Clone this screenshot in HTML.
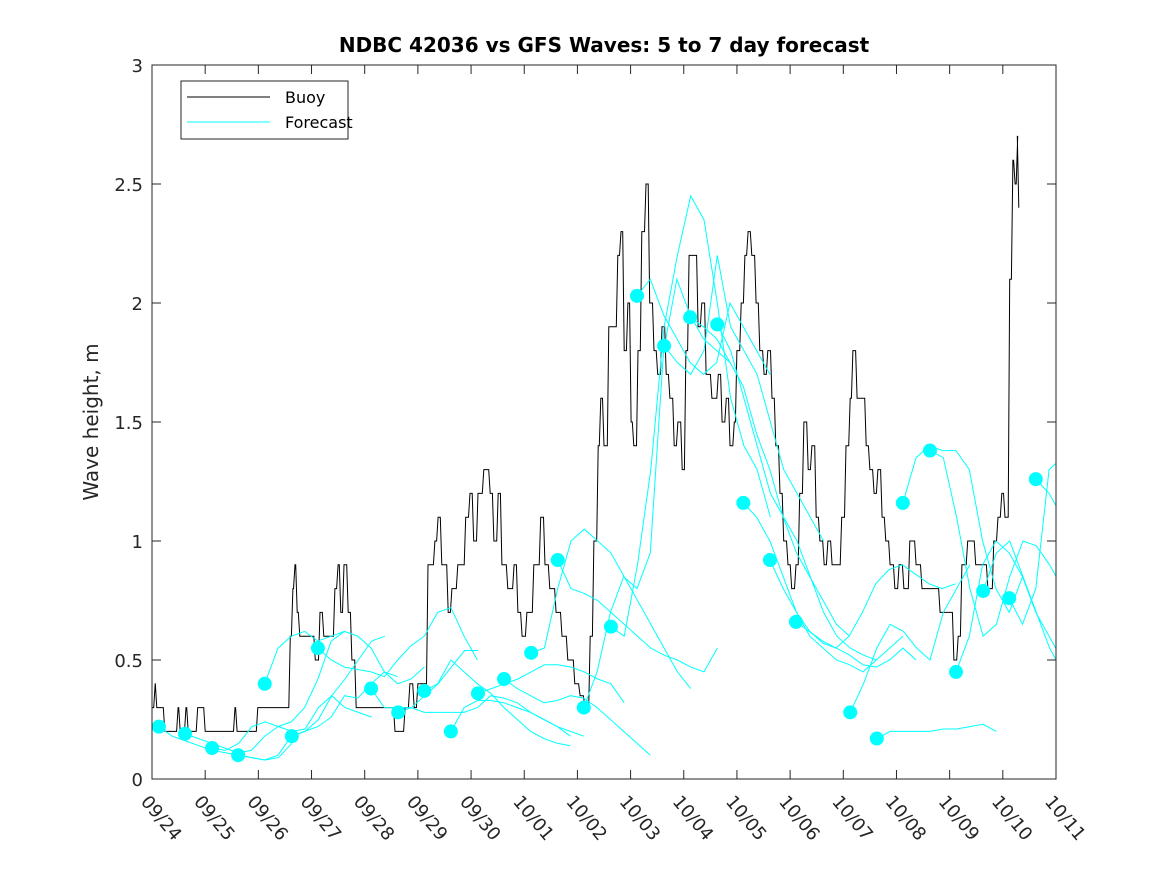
<!DOCTYPE html>
<html><head><meta charset="utf-8"><style>
body{margin:0;background:#fff;}
svg{display:block;font-family:"DejaVu Sans","Liberation Sans",sans-serif;}
</style></head><body>
<svg id="chart" width="1167" height="875" viewBox="0 0 1167 875">
<rect x="0" y="0" width="1167" height="875" fill="#fff"/>
<text x="604" y="52" text-anchor="middle" font-size="20" font-weight="bold" fill="#000">NDBC 42036 vs GFS Waves: 5 to 7 day forecast</text>
<text transform="translate(98,422) rotate(-90)" text-anchor="middle" font-size="20" fill="#262626">Wave height, m</text>
<g id="plot"></g>
<g id="axes"></g>
<g>
<rect x="181" y="81" width="167" height="58" fill="#fff" stroke="#262626" stroke-width="1"/>
<line x1="187" y1="97" x2="270" y2="97" stroke="#000" stroke-width="1"/>
<text x="285" y="103" font-size="16" fill="#000">Buoy</text>
<line x1="187" y1="122" x2="270" y2="122" stroke="#00ffff" stroke-width="1"/>
<text x="285" y="128" font-size="16" fill="#000">Forecast</text>
</g>
</svg>
<script>
const xTickLabels=["09/24","09/25","09/26","09/27","09/28","09/29","09/30","10/01","10/02","10/03","10/04","10/05","10/06","10/07","10/08","10/09","10/10","10/11"];
const yTickValues=[0,0.5,1,1.5,2,2.5,3];
const yTickLabels=["0","0.5","1","1.5","2","2.5","3"];
const buoyDays=[0,.06,.09,.24,.49,.53,.64,.68,.86,1.0,1.56,1.6,1.99,2.6,2.65,2.69,2.73,2.78,3.07,3.16,3.23,3.44,3.5,3.55,3.61,3.69,3.76,3.84,4.57,4.76,4.85,4.93,5.0,5.19,5.32,5.38,5.45,5.57,5.64,5.75,5.9,5.98,6.05,6.13,6.24,6.36,6.43,6.51,6.58,6.69,6.81,6.88,6.96,7.05,7.18,7.31,7.39,7.48,7.6,7.71,7.82,7.95,8.05,8.14,8.24,8.31,8.39,8.44,8.5,8.59,8.69,8.76,8.82,8.88,8.95,9.01,9.06,9.14,9.21,9.29,9.36,9.44,9.51,9.59,9.67,9.74,9.82,9.89,9.97,10.04,10.1,10.19,10.27,10.34,10.42,10.53,10.65,10.72,10.8,10.87,10.95,11.0,11.08,11.15,11.21,11.28,11.36,11.43,11.51,11.58,11.66,11.73,11.81,11.88,11.96,12.03,12.11,12.18,12.26,12.34,12.41,12.49,12.56,12.64,12.71,12.79,12.9,12.97,13.05,13.13,13.18,13.26,13.35,13.43,13.5,13.58,13.65,13.73,13.8,13.88,13.97,14.05,14.14,14.25,14.37,14.48,14.72,14.82,14.97,15.08,15.16,15.23,15.34,15.49,15.72,15.83,15.91,15.98,16.04,16.13,16.19,16.23,16.28,16.3];
const buoyValues=[.3,.4,.3,.2,.3,.2,.3,.2,.3,.2,.3,.2,.3,.6,.8,.9,.7,.6,.5,.7,.6,.8,.9,.7,.9,.7,.5,.3,.2,.3,.4,.3,.4,.9,1.0,1.1,.9,.7,.8,.9,1.1,1.2,1.0,1.2,1.3,1.2,1.0,1.2,.9,.8,.9,.7,.6,.7,.9,1.1,.9,.8,.7,.6,.5,.4,.35,.3,.6,1.0,1.4,1.6,1.4,1.9,1.9,2.2,2.3,1.8,2.0,1.5,1.4,1.8,2.3,2.5,2.0,1.8,1.7,1.9,1.7,1.6,1.4,1.5,1.3,1.8,2.2,2.2,1.9,2.0,1.7,1.6,1.7,1.5,1.6,1.4,1.5,1.8,2.0,2.2,2.3,2.2,2.0,1.8,1.7,1.8,1.6,1.4,1.2,1.0,.9,.8,.9,1.2,1.5,1.3,1.4,1.1,1.0,.9,1.0,.9,.9,1.1,1.4,1.6,1.8,1.6,1.6,1.4,1.3,1.2,1.3,1.1,1.0,.9,.8,.9,.8,1.0,.9,.8,.8,.7,.7,.5,.6,.9,1.0,.9,.8,1.0,1.1,1.2,1.1,2.1,2.6,2.5,2.7,2.4];
const forecastStartDays=[.13,.62,1.13,1.62,2.12,2.63,3.12,4.12,4.63,5.12,5.62,6.13,6.62,7.13,7.63,8.12,8.63,9.12,9.63,10.12,10.63,11.12,11.62,12.11,13.13,13.63,14.12,14.63,15.12,15.63,16.12,16.62];
const forecastStep=0.25;
const forecastSeries=[
[.22,.18,.16,.14,.12,.11,.10,.09,.08,.09,.15],
[.19,.17,.15,.13,.11,.12,.18,.22,.24,.30,.42,.58,.62,.60],
[.13,.12,.15,.22,.24,.22,.20,.21,.30,.35,.42,.50,.58,.60],
[.10,.09,.08,.10,.18,.20,.22,.26,.35,.34,.40,.45,.43],
[.40,.55,.60,.62,.58,.60,.62,.60,.55,.45,.40,.42,.47],
[.18,.20,.25,.35,.30,.28,.26],
[.55,.50,.47,.46,.45,.43,.50,.56,.60,.70,.72,.60,.50],
[.38,.30,.30,.30,.28,.28,.28,.28,.30,.35,.34,.32,.28,.25,.22,.18],
[.28,.30,.35,.40,.47,.54,.54],
[.37,.40,.50,.45,.40,.36,.30,.25,.20,.17,.15,.14],
[.20,.30,.33,.33,.32,.30,.28,.25,.22,.20,.18],
[.36,.38,.40,.42,.45,.48,.48,.47,.45,.42,.40,.32],
[.42,.38,.35,.32,.33,.35,.34,.30,.25,.20,.15,.10],
[.53,.55,.80,1.00,1.05,1.00,.95,.85,.75,.65,.55,.45,.38],
[.92,.80,.78,.75,.70,.65,.60,.55,.52,.50,.47,.45,.55],
[.30,.45,.70,.85,.80,.95,1.8,2.1,1.95,1.85,1.8,1.75],
[.64,.60,.90,1.30,1.90,2.20,2.45,2.35,2.00,1.60,1.40,1.30,1.10],
[2.03,2.10,1.95,1.85,1.75,1.70,1.75,2.00,1.90,1.80,1.70],
[1.82,1.75,1.70,1.80,2.20,1.90,1.80,1.70,1.50,1.30,1.20,1.10,1.00],
[1.94,1.90,1.85,1.75,1.65,1.45,1.30,1.10,.95,.85,.75,.65,.60],
[1.91,1.80,1.60,1.40,1.20,1.10,1.00,.85,.70,.60,.55,.52,.50],
[1.16,1.10,1.00,.85,.70,.60,.55,.50,.48,.45,.50,.55,.60],
[.92,.80,.70,.62,.57,.55,.52,.48,.47,.50,.55,.50],
[.66,.62,.58,.55,.60,.70,.82,.88,.90,.86,.82,.80,.82],
[.28,.40,.55,.65,.62,.55,.50,.70,.80,.90],
[.17,.20,.20,.20,.20,.21,.21,.22,.23,.20],
[1.16,1.35,1.40,1.38,1.38,1.30,1.00,.80,.70,.85],
[1.38,1.35,1.10,.80,.60,.65,.85,1.00,.98,.90,.80],
[.45,.60,.90,1.00,.95,.85,.70,.60,.50,.60,.85,1.20,1.40,1.43],
[.79,.95,1.00,.85,.70,.55,.45,.80,.90,.85,.60],
[.76,.65,.80,1.30,1.35,1.25,1.15,1.28],
[1.26,1.20,1.10]
];
const NS='http://www.w3.org/2000/svg';
const X0=152,X1=1056,Y0=779,Y1=65,DMAX=17,VMAX=3;
function xs(d){return X0+(X1-X0)*d/DMAX;}
function ys(v){return Y0-(Y0-Y1)*v/VMAX;}
const plot=document.getElementById('plot'),axes=document.getElementById('axes');
function mk(tag,attrs,parent){const e=document.createElementNS(NS,tag);for(const k in attrs)e.setAttribute(k,attrs[k]);parent.appendChild(e);return e;}
const defs=mk('defs',{},plot);
const cp=mk('clipPath',{id:'clip'},defs);
mk('rect',{x:X0,y:Y1,width:X1-X0,height:Y0-Y1},cp);
const lines=mk('g',{'clip-path':'url(#clip)'},plot);
// buoy as steps
let bp='';
for(let i=0;i<buoyDays.length;i++){
  const x=xs(buoyDays[i]).toFixed(1),y=ys(buoyValues[i]).toFixed(1);
  if(i===0){bp+='M'+x+','+y;}
  else{const xp=(xs(buoyDays[i])-1.5).toFixed(1);bp+='L'+xp+','+ys(buoyValues[i-1]).toFixed(1)+'L'+x+','+y;}
}
const bl=mk('path',{d:bp,fill:'none',stroke:'#000','stroke-width':1},lines);


for(let s=0;s<forecastSeries.length;s++){
  const vals=forecastSeries[s];let p='';
  for(let i=0;i<vals.length;i++)p+=(i?'L':'M')+xs(forecastStartDays[s]+i*forecastStep).toFixed(1)+','+ys(vals[i]).toFixed(1);
  const fl=mk('path',{d:p,fill:'none',stroke:'#00ffff','stroke-width':1},lines);
  
  
}
for(let s=0;s<forecastSeries.length;s++){
  const c=mk('circle',{cx:xs(forecastStartDays[s]),cy:ys(forecastSeries[s][0]),r:7,fill:'#00ffff'},plot);
  
  
}
const box=mk('rect',{x:X0,y:Y1,width:X1-X0,height:Y0-Y1,fill:'none',stroke:'#262626','stroke-width':1},axes);


for(let i=0;i<xTickLabels.length;i++){
  const x=xs(i);
  mk('line',{x1:x,y1:Y0,x2:x,y2:Y0-9,stroke:'#262626'},axes);
  mk('line',{x1:x,y1:Y1,x2:x,y2:Y1+9,stroke:'#262626'},axes);
  const t=mk('text',{transform:'translate('+(x-12)+',802) rotate(50)','font-size':18,fill:'#262626'},axes);
  t.textContent=xTickLabels[i];
  
  
}
for(let i=0;i<yTickValues.length;i++){
  const y=ys(yTickValues[i]);
  mk('line',{x1:X0,y1:y,x2:X0+9,y2:y,stroke:'#262626'},axes);
  mk('line',{x1:X1,y1:y,x2:X1-9,y2:y,stroke:'#262626'},axes);
  const t=mk('text',{x:X0-9,y:y+7,'text-anchor':'end','font-size':18,fill:'#262626'},axes);
  t.textContent=yTickLabels[i];
  
  
}
</script>
</body></html>
